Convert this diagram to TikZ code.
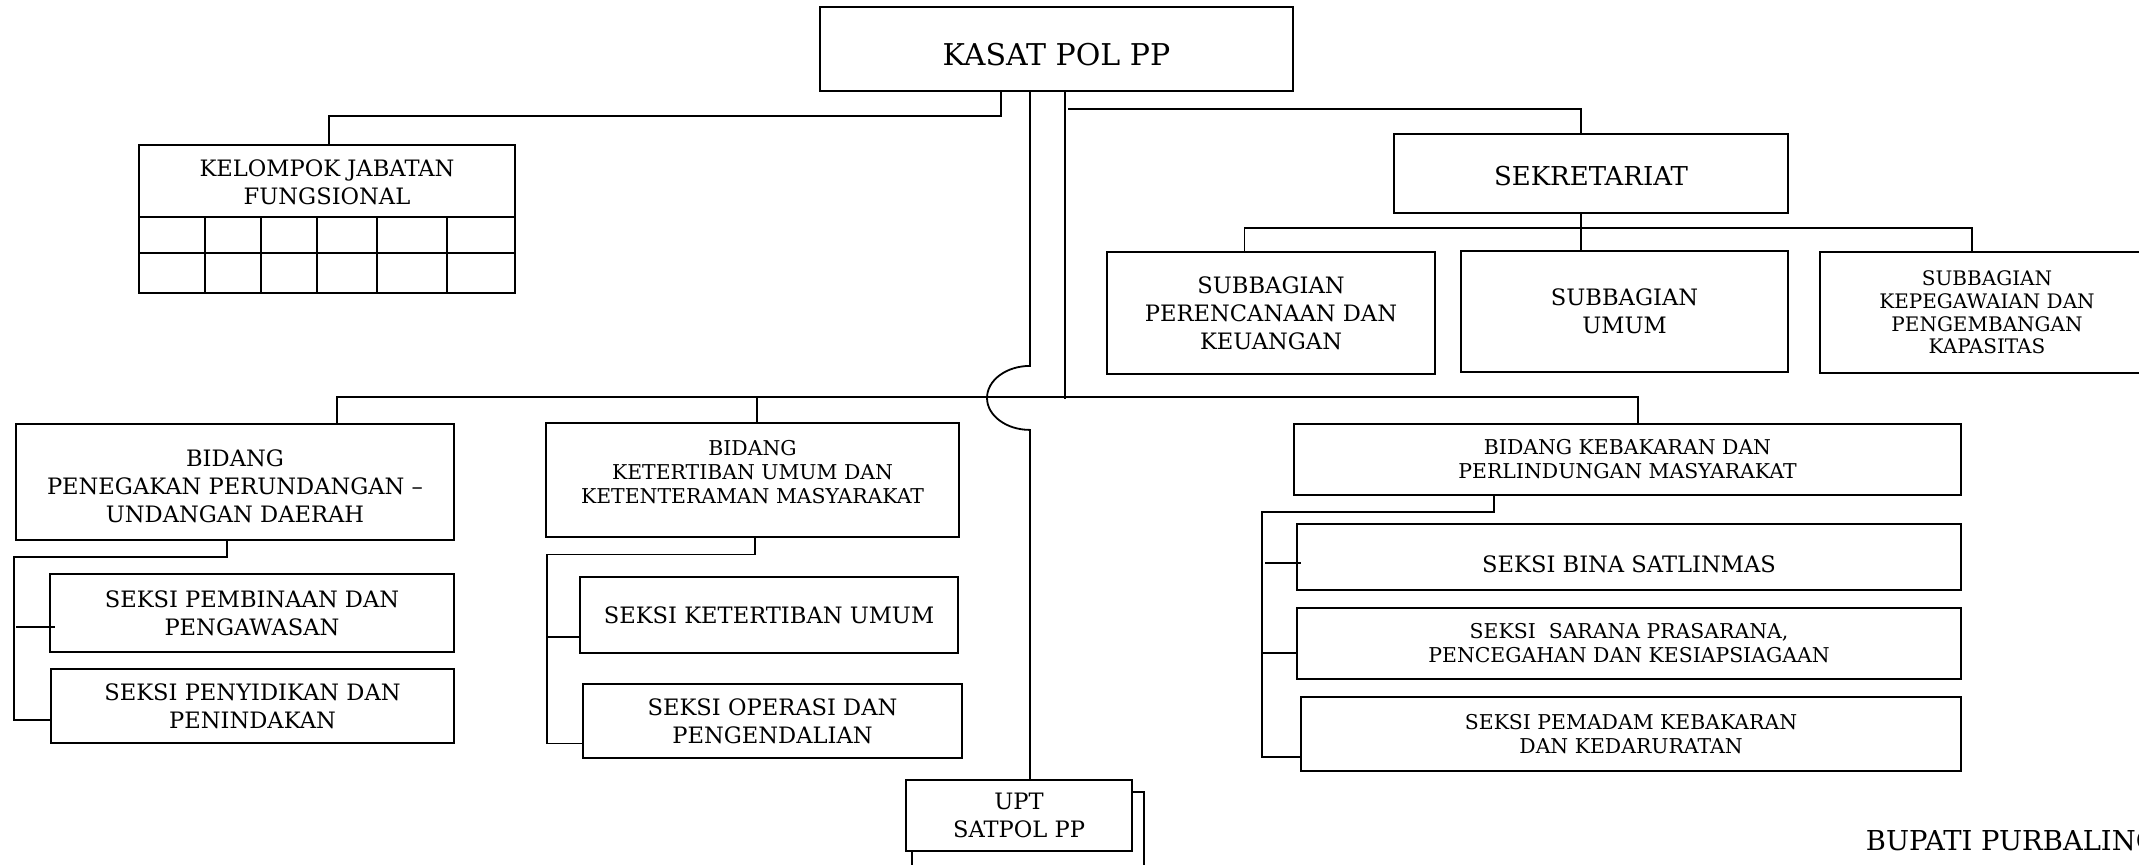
\documentclass[tikz,border=0pt]{standalone}
\usepackage{fontspec}
\setmainfont{DejaVu Serif}
\usetikzlibrary{calc}

\newcommand\fbig{\fontsize{11.3}{14}\selectfont}
\newcommand\fsmall{\fontsize{10.2}{12}\selectfont}

\begin{document}
\begin{tikzpicture}[x=0.5pt,y=-0.5pt,
    line width=0.9pt,
    unit/.style={draw, rectangle, inner sep=0pt, align=center, font=\fbig},
    smallunit/.style={unit, font=\fsmall}]

\useasboundingbox (0,0) rectangle (2139,864);

% Head
\node[unit,
    minimum width=236.5pt,
    minimum height=42pt] (kasat) at (1056.5,49) {};
\node[font=\fontsize{15}{18}\selectfont] (kasattext) at ($(kasat.center)+(0,6)$) {KASAT POL PP};

% Kelompok jabatan fungsional (box with table)
\node[unit,
    minimum width=188pt,
    minimum height=74pt] (kjf) at (327,219) {};
\node[font=\fbig, align=center] (kjftext) at ($(kjf.north)+(0,38)$) {KELOMPOK JABATAN\\FUNGSIONAL};
\draw ($(kjf.north west)+(0,73)$) -- ($(kjf.north east)+(0,73)$);
\draw ($(kjf.north west)+(0,109)$) -- ($(kjf.north east)+(0,109)$);
\foreach \dx in {67,123,179,239,309}
    \draw ($(kjf.north west)+(\dx,73)$) -- ($(kjf.south west)+(\dx,0)$);

% Sekretariat and subbagian
\node[unit,
    minimum width=197pt,
    minimum height=39.5pt] (sekr) at (1591,173.5) {};
\node[font=\fontsize{13}{16}\selectfont] (sekrtext) at ($(sekr.center)+(0,3)$) {SEKRETARIAT};
\node[unit, minimum width=164pt, minimum height=61pt] (sb1) at (1271,313)
    {SUBBAGIAN\\PERENCANAAN DAN\\KEUANGAN};
\node[unit, minimum width=163.5pt, minimum height=60.5pt] (sb2) at (1624.5,311.5)
    {SUBBAGIAN\\UMUM};
\node[unit, minimum width=167pt, minimum height=60.5pt,
    font=\fontsize{10}{11.3}\selectfont] (sb3) at (1987,312.5)
    {SUBBAGIAN\\KEPEGAWAIAN DAN\\PENGEMBANGAN\\KAPASITAS};

% Bidang penegakan perda
\node[unit, minimum width=219pt, minimum height=58pt] (bid1) at (235,482) {};
\node[font=\fbig, align=center] (bid1text) at ($(bid1.center)+(0,4)$)
    {BIDANG\\PENEGAKAN PERUNDANGAN --\\UNDANGAN DAERAH};
\node[unit, minimum width=202pt, minimum height=39pt] (s11) at (252,613)
    {SEKSI PEMBINAAN DAN\\PENGAWASAN};
\node[unit, minimum width=201.5pt, minimum height=37pt] (s12) at (252.5,706)
    {SEKSI PENYIDIKAN DAN\\PENINDAKAN};

% Bidang ketertiban umum
\node[unit, minimum width=206.5pt, minimum height=57pt] (bid2) at (752.5,480) {};
\node[font=\fsmall, align=center] (bid2text) at ($(bid2.center)+(0,-8)$)
    {BIDANG\\KETERTIBAN UMUM DAN\\KETENTERAMAN MASYARAKAT};
\node[unit, minimum width=189pt, minimum height=38pt] (s21) at (769,615)
    {SEKSI KETERTIBAN UMUM};
\node[unit, minimum width=189.5pt, minimum height=37pt] (s22) at (772.5,721)
    {SEKSI OPERASI DAN\\PENGENDALIAN};

% Bidang kebakaran
\node[smallunit, minimum width=333.5pt, minimum height=35.5pt] (bid3) at (1627.5,459.5)
    {BIDANG KEBAKARAN DAN\\PERLINDUNGAN MASYARAKAT};
\node[unit, minimum width=332pt, minimum height=33pt] (s31) at (1629,557) {};
\node[font=\fbig] (s31text) at ($(s31.center)+(0,7)$) {SEKSI BINA SATLINMAS};
\node[smallunit, minimum width=332pt, minimum height=35.5pt] (s32) at (1629,643.5)
    {SEKSI\ \ SARANA PRASARANA,\\PENCEGAHAN DAN KESIAPSIAGAAN};
\node[smallunit, minimum width=330pt, minimum height=37pt] (s33) at (1631,734)
    {SEKSI PEMADAM KEBAKARAN\\DAN KEDARURATAN};

% UPT
\node[unit, minimum width=113pt, minimum height=35.5pt] (upt) at (1019,815.5)
    {UPT\\SATPOL PP};

% Signature
\node[anchor=base west, inner sep=0pt,
    font=\fontsize{13.7}{16}\selectfont] (bupati) at (1865,850) {BUPATI PURBALINGGA};

% Lines from the head
\draw (kasat.south) ++(-55.5,0) -- ++(0,24) -| ($(kjf.north)+(2,0)$);
\draw (kasat.south) ++(11.5,17) -| ($(sekr.north)+(-10,0)$);
\draw (kasat.south) ++(8.5,0) -- ++(0,307);
\draw (kasat.south) ++(-26.5,0) coordinate (h0) -- ++(0,274)
    arc[start angle=270, end angle=90, x radius=43, y radius=32]
    -- (upt.north -| h0);

% Bus to the bidang
\draw ($(bid1.north)+(102,0)$) -- ++(0,-26) -| ($(bid3.north)+(10.5,0)$);
\draw ($(bid2.north)+(4.5,0)$) -- ++(0,-25);

% Sekretariat bus
\draw ($(sekr.south)+(-10,0)$) -- ($(sb2.north)+(-43.5,0)$);
\draw ($(sb1.north)+(-26.5,0)$) -- ++(0,-23) -| ($(sb3.north)+(-15,0)$);

% Seksi lines
\draw ($(bid1.south)+(-8,0)$) -- ++(0,16) -- ++(-213,0) |- ($(s12.west)+(0,14)$);
\draw ($(s11.west)+(-33,14)$) -- ++(39,0);

\draw ($(bid2.south)+(2.5,0)$) -- ++(0,16.5) -- ++(-208,0) |- ($(s22.west)+(0,22.5)$);
\draw ($(s21.west)+(-33,22)$) -- ++(34,0);

\draw ($(bid3.south)+(-133.5,0)$) -- ++(0,16) -- ++(-232,0) |- ($(s33.west)+(0,23)$);
\draw ($(s31.west)+(-31,6)$) -- ++(36,0);
\draw ($(s32.west)+(-35,9.5)$) -- ++(35,0);

% Cut off lines under UPT
\draw ($(upt.east)+(0,-23.5)$) -| ++(11,90);
\draw ($(upt.south west)+(7,0)$) -- ++(0,30);

\end{tikzpicture}
\end{document}
